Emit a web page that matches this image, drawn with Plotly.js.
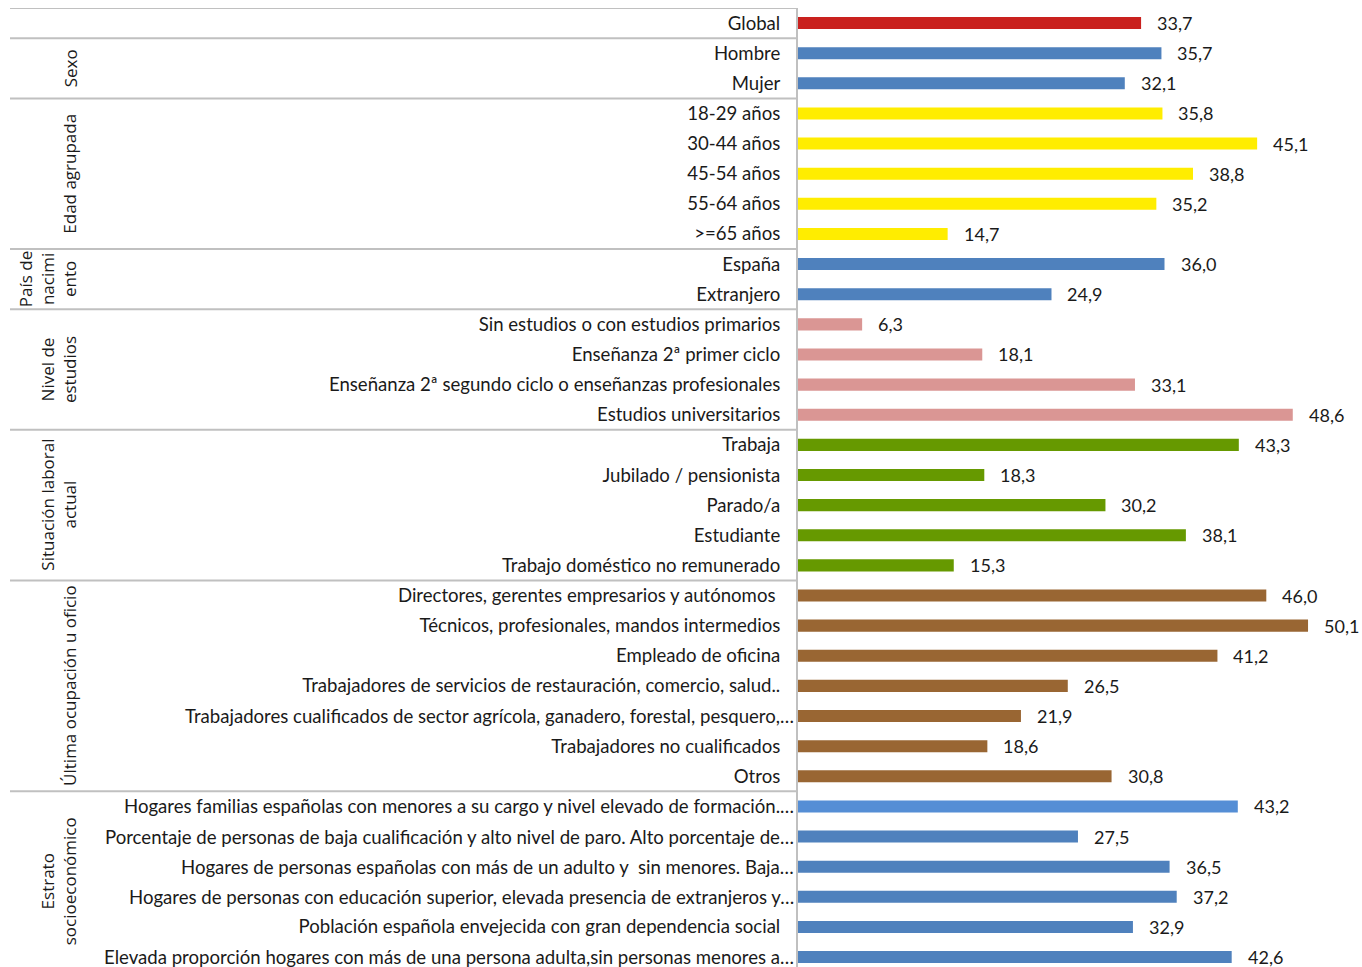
<!DOCTYPE html>
<html>
<head>
<meta charset="utf-8">
<script src="https://cdn.plot.ly/plotly-3.0.1.min.js"></script>
<style>html,body{margin:0;padding:0;background:#fff;}#chart{width:1362px;height:967px;}</style>
</head>
<body>
<div id="chart"></div>
<script>
const categories = [
  "Global",
  "Hombre",
  "Mujer",
  "18-29 años",
  "30-44 años",
  "45-54 años",
  "55-64 años",
  ">=65 años",
  "España",
  "Extranjero",
  "Sin estudios o con estudios primarios",
  "Enseñanza 2ª primer ciclo",
  "Enseñanza 2ª segundo ciclo o enseñanzas profesionales",
  "Estudios universitarios",
  "Trabaja",
  "Jubilado / pensionista",
  "Parado/a",
  "Estudiante",
  "Trabajo doméstico no remunerado",
  "Directores, gerentes empresarios y autónomos\u00A0",
  "Técnicos, profesionales, mandos intermedios",
  "Empleado de oficina",
  "Trabajadores de servicios de restauración, comercio, salud..",
  "Trabajadores cualificados de sector agrícola, ganadero, forestal, pesquero,…",
  "Trabajadores no cualificados",
  "Otros",
  "Hogares familias españolas con menores a su cargo y nivel elevado de formación.…",
  "Porcentaje de personas de baja cualificación y alto nivel de paro. Alto porcentaje de…",
  "Hogares de personas españolas con más de un adulto y \u00A0sin menores. Baja…",
  "Hogares de personas con educación superior, elevada presencia de extranjeros y…",
  "Población española envejecida con gran dependencia social",
  "Elevada proporción hogares con más de una persona adulta,sin personas menores a…"
];

const values = [
  33.7,
  35.7, 32.1,
  35.8, 45.1, 38.8, 35.2, 14.7,
  36.0, 24.9,
  6.3, 18.1, 33.1, 48.6,
  43.3, 18.3, 30.2, 38.1, 15.3,
  46.0, 50.1, 41.2, 26.5, 21.9, 18.6, 30.8,
  43.2, 27.5, 36.5, 37.2, 32.9, 42.6
];

const groupLabels = ["", "Sexo", "Edad agrupada", "País de<br>nacimi<br>ento", "Nivel de<br>estudios",
  "Situación laboral<br>actual", "Última ocupación u oficio", "Estrato<br>socioeconómico"];
const groupStart = [0, 1, 3, 8, 10, 14, 19, 26];
const groupEnd   = [0, 2, 7, 9, 13, 18, 25, 31];

// styling
const groupColors = ["#C9211E", "#4F81BD", "#FFED00", "#4F81BD", "#DA9694", "#669900", "#996633", "#4F81BD"];
const barColors = values.map((v, i) => {
  let g = groupStart.findIndex((s, k) => i >= s && i <= groupEnd[k]);
  return groupColors[g];
});
barColors[26] = "#558ED5";

const L = 798, W = 564;
const px = p => (p - L) / W;
const fmt = v => v.toFixed(1).replace('.', ',');
const labelFont = {family: 'Lato, sans-serif', size: 18.6, color: '#1a1a1a'};

// truncated labels (ending in an ellipsis) run a little further right, as in the original
const truncated = categories.map(c => c.endsWith('…'));
const tickText = categories.map((c, i) => truncated[i] ? '' : c);

const annotations = [];
values.forEach((v, i) => {
  annotations.push({
    x: v, y: i, xref: 'x', yref: 'y',
    text: fmt(v), showarrow: false, xanchor: 'left', yanchor: 'middle',
    xshift: 14,
    font: {family: 'Lato, sans-serif', size: 18, color: '#1a1a1a'}
  });
  if (truncated[i]) {
    annotations.push({
      x: px(796), xref: 'paper', y: i, yref: 'y',
      text: categories[i], showarrow: false, xanchor: 'right', yanchor: 'middle',
      font: labelFont
    });
  }
});
groupLabels.forEach((t, k) => {
  if (!t) return;
  const n = t.split('<br>').length;
  annotations.push({
    x: px(70 - (n - 1) * 11.5), xref: 'paper',
    y: (groupStart[k] + groupEnd[k]) / 2, yref: 'y',
    text: t, textangle: -90, showarrow: false,
    xanchor: 'center', yanchor: 'middle', align: 'center',
    font: {family: 'Open Sans, sans-serif', size: 17, color: '#1a1a1a'}
  });
});

const shapes = [];
const bounds = [-0.5];
for (let k = 0; k < groupEnd.length - 1; k++) bounds.push(groupEnd[k] + 0.5);
bounds.forEach(b => {
  shapes.push({
    type: 'line', xref: 'paper', yref: 'y',
    x0: px(10), x1: 0, y0: b, y1: b,
    line: {color: '#C0C0C0', width: 2}
  });
});

const yIdx = categories.map((c, i) => i);
const trace = {
  type: 'bar', orientation: 'h',
  x: values, y: yIdx,
  marker: {color: barColors},
  width: 0.4,
  text: categories, hoverinfo: 'x+text', textposition: 'none'
};

const layout = {
  width: 1362, height: 967,
  margin: {l: L, r: 0, t: 8, b: 0, pad: 0},
  paper_bgcolor: '#fff', plot_bgcolor: '#fff',
  showlegend: false,
  xaxis: {range: [0, 55.4], showgrid: false, zeroline: false, showticklabels: false, showline: false, fixedrange: true},
  yaxis: {
    type: 'linear',
    range: [31.33, -0.5],
    tickmode: 'array', tickvals: yIdx, ticktext: tickText,
    showgrid: false, zeroline: false,
    showline: true, linecolor: '#C0C0C0', linewidth: 2,
    ticks: 'outside', ticklen: 12, tickcolor: 'rgba(0,0,0,0)',
    tickfont: labelFont,
    automargin: false, fixedrange: true
  },
  annotations: annotations,
  shapes: shapes
};

Plotly.newPlot('chart', [trace], layout, {displayModeBar: false, staticPlot: true});
</script>
</body>
</html>
